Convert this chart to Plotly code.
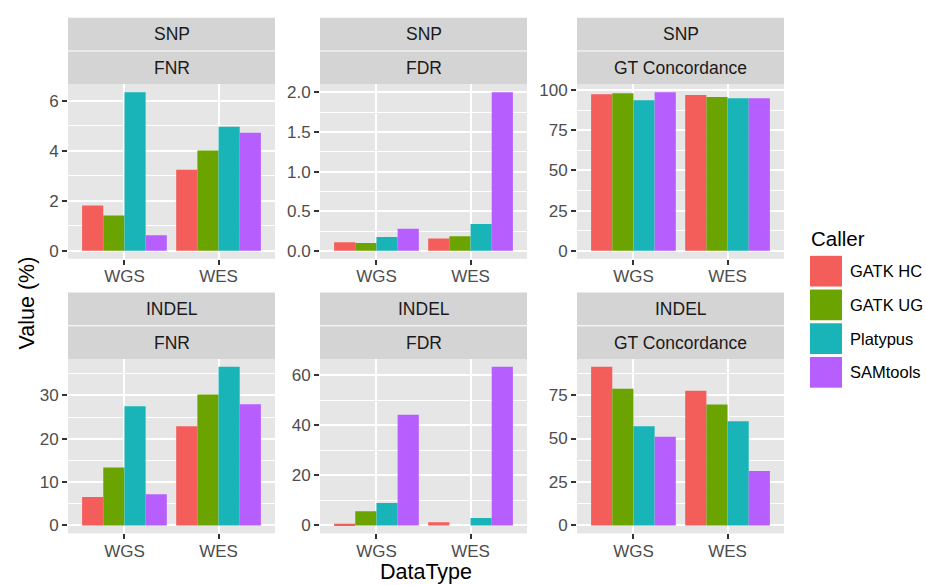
import plotly.graph_objects as go

W, H = 926, 585

data_types = ["WGS", "WES"]
callers = ["GATK HC", "GATK UG", "Platypus", "SAMtools"]
colors = ["#F35E5A", "#6BA300", "#18B4B8", "#B75EFF"]

variant_types = ["SNP", "SNP", "SNP", "INDEL", "INDEL", "INDEL"]
metrics = ["FNR", "FDR", "GT Concordance", "FNR", "FDR", "GT Concordance"]

# values per panel: per caller -> [WGS, WES]
snp_fnr = {"GATK HC": [1.82, 3.25], "GATK UG": [1.42, 4.02], "Platypus": [6.35, 4.97], "SAMtools": [0.63, 4.73]}
snp_fdr = {"GATK HC": [0.11, 0.155], "GATK UG": [0.10, 0.185], "Platypus": [0.176, 0.34], "SAMtools": [0.28, 2.0]}
snp_gt = {"GATK HC": [97.5, 96.9], "GATK UG": [98.1, 95.8], "Platypus": [93.7, 95.0], "SAMtools": [98.7, 95.0]}
indel_fnr = {"GATK HC": [6.6, 22.9], "GATK UG": [13.4, 30.2], "Platypus": [27.5, 36.6], "SAMtools": [7.2, 28.0]}
indel_fdr = {"GATK HC": [0.65, 1.3], "GATK UG": [5.66, None], "Platypus": [8.97, 3.0], "SAMtools": [44.2, 63.3]}
indel_gt = {"GATK HC": [91.2, 77.4], "GATK UG": [78.6, 69.5], "Platypus": [57.1, 60.0], "SAMtools": [51.0, 31.4]}
panels = [snp_fnr, snp_fdr, snp_gt, indel_fnr, indel_fdr, indel_gt]

tick_vals = [[0, 2, 4, 6], [0, 0.5, 1.0, 1.5, 2.0], [0, 25, 50, 75, 100],
             [0, 10, 20, 30], [0, 20, 40, 60], [0, 25, 50, 75]]
tick_text = [["0", "2", "4", "6"], ["0.0", "0.5", "1.0", "1.5", "2.0"], ["0", "25", "50", "75", "100"],
             ["0", "10", "20", "30"], ["0", "20", "40", "60"], ["0", "25", "50", "75"]]

FONT = "Liberation Sans, Arial, sans-serif"

# layout in pixels
col_x = [(68, 275), (320, 527), (577, 784)]
row_panel_y = [(82, 258), (359, 535)]
row_strip_y = [(15, 48.5, 82), (292, 325.5, 359)]

def px(x):
    return x / W

def py(y):
    return 1 - y / H

fig = go.Figure()
layout = {}
shapes = []
annotations = []

for i, pdata in enumerate(panels):
    r, c = divmod(i, 3)
    n = i + 1
    xa = "x" if n == 1 else f"x{n}"
    ya = "y" if n == 1 else f"y{n}"
    for k, caller in enumerate(callers):
        fig.add_trace(go.Bar(
            x=data_types, y=pdata[caller], name=caller,
            marker=dict(color=colors[k], line=dict(width=0)),
            xaxis=xa, yaxis=ya, showlegend=False, hoverinfo="skip",
        ))
    vals = [v for cl in callers for v in pdata[cl] if v is not None]
    vmax = max(vals)
    vmin = min(0, min(vals))
    span = vmax - vmin
    yrange = [vmin - 0.05 * span, vmax + 0.05 * span]
    step = tick_vals[i][1] - tick_vals[i][0]
    x0, x1 = col_x[c]
    y0, y1 = row_panel_y[r]
    layout["xaxis" if n == 1 else f"xaxis{n}"] = dict(
        domain=[px(x0), px(x1)], anchor=ya, range=[-0.6, 1.6],
        type="category", categoryorder="array", categoryarray=data_types,
        showgrid=True, gridcolor="white", gridwidth=2,
        ticks="outside", ticklen=5, tickwidth=1.5, tickcolor="#333333",
        ticklabelstandoff=-3,
        tickfont=dict(size=17, color="#4D4D4D", family=FONT),
        showline=False, zeroline=False, fixedrange=True,
    )
    layout["yaxis" if n == 1 else f"yaxis{n}"] = dict(
        domain=[py(y1), py(y0)], anchor=xa, range=yrange,
        tickmode="array", tickvals=tick_vals[i], ticktext=tick_text[i],
        showgrid=True, gridcolor="white", gridwidth=2,
        minor=dict(tickmode="linear", tick0=0, dtick=step / 2, showgrid=True,
                   gridcolor="white", gridwidth=1, ticks=""),
        ticks="outside", ticklen=5, tickwidth=1.5, tickcolor="#333333",
        tickfont=dict(size=17, color="#4D4D4D", family=FONT),
        showline=False, zeroline=False, fixedrange=True,
    )
    # strips
    s0, smid, s1 = row_strip_y[r]
    for (ya0, ya1, label) in [(s0, smid - 0.5, variant_types[i]), (smid + 0.5, s1, metrics[i])]:
        shapes.append(dict(type="rect", xref="paper", yref="paper",
                           x0=px(x0), x1=px(x1), y0=py(ya1), y1=py(ya0),
                           fillcolor="#D4D4D4", line=dict(width=0), layer="below"))
        annotations.append(dict(text=label, xref="paper", yref="paper",
                                x=px((x0 + x1) / 2), y=py((ya0 + ya1) / 2),
                                xanchor="center", yanchor="middle", showarrow=False,
                                font=dict(size=17.5, color="#1A1A1A", family=FONT)))

# axis titles
annotations.append(dict(text="DataType", xref="paper", yref="paper",
                        x=px(426), y=py(574), xanchor="center", yanchor="middle",
                        showarrow=False,
                        font=dict(size=21.5, color="black", family=FONT)))
annotations.append(dict(text="Value (%)", xref="paper", yref="paper",
                        x=px(27), y=py(303), xanchor="center", yanchor="middle",
                        textangle=-90, showarrow=False,
                        font=dict(size=21.5, color="black", family=FONT)))

# legend (manual, ggplot style)
annotations.append(dict(text="Caller", xref="paper", yref="paper",
                        x=px(809), y=py(238), xanchor="left", yanchor="middle",
                        showarrow=False,
                        font=dict(size=20.5, color="black", family=FONT)))
key_top = 254
key_h = 34
for k, caller in enumerate(callers):
    ky0 = key_top + k * key_h
    shapes.append(dict(type="rect", xref="paper", yref="paper",
                       x0=px(810), x1=px(842), y0=py(ky0 + 32), y1=py(ky0 + 1),
                       fillcolor=colors[k], line=dict(width=0)))
    annotations.append(dict(text=caller, xref="paper", yref="paper",
                            x=px(848), y=py(ky0 + 16.5), xanchor="left", yanchor="middle",
                            showarrow=False,
                            font=dict(size=16.5, color="black", family=FONT)))

fig.update_layout(
    width=W, height=H,
    margin=dict(l=0, r=0, t=0, b=0),
    paper_bgcolor="white", plot_bgcolor="#E6E6E6",
    barmode="group", bargap=0.1, bargroupgap=0,
    showlegend=False,
    shapes=shapes, annotations=annotations,
    font=dict(family=FONT),
    **layout,
)

fig.write_html(
    "out.html",
    config={"displayModeBar": False},
    post_script="document.body.style.margin='0';document.body.style.overflow='hidden';",
)
